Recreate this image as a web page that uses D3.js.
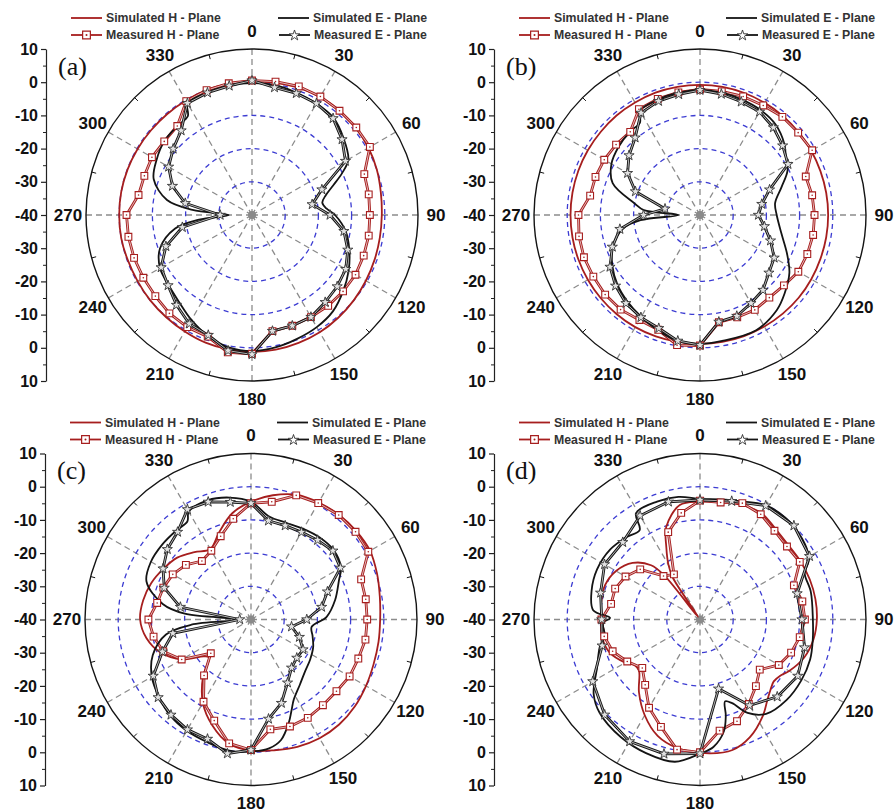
<!DOCTYPE html>
<html><head><meta charset="utf-8">
<script src="https://cdn.jsdelivr.net/npm/d3@7"></script>
<style>body{margin:0;background:#fff}svg{display:block}</style>
</head><body>
<svg id="chart" width="894" height="812"></svg>
<script>
// ---------- data ----------
const angles10 = d3.range(0, 360, 10);
const angles15 = d3.range(0, 360, 15);
const angleLabels = d3.range(0, 360, 30);
const radialTicks = d3.range(-50, 51, 10);      // mirrored axis, label = |v| - 40
const gridCircles = [-30, -20, -10, 0];
const panelLabels = ["(a)", "(b)", "(c)", "(d)"];
const legendNames = ["Simulated H - Plane", "Measured H - Plane", "Simulated E - Plane", "Measured E - Plane"];

// Panel (a)  [angle deg, gain dB] for simulated; measured at angle steps
const simH_a = [[0,0.3],[10,0.4],[20,0.8],[30,1],[40,1],[50,0.8],[60,0.5],[70,0],[80,-0.6],[90,-0.9],[100,-0.9],[110,-0.7],[120,-0.4],[130,0],[140,0.4],[150,0.8],[160,1],[170,1.2],[180,1.2],[190,1.1],[200,0.9],[210,0.5],[220,0.2],[230,0],[240,-0.2],[250,-0.2],[260,0],[270,0],[280,0],[290,-0.1],[300,-0.2],[310,-0.3],[320,-0.3],[330,-0.2],[340,0],[350,0.2]];
const measH_a = [0.5,0.8,1.2,1.2,1,1,1,-4,-4.3,-4.5,-4.3,-4.2,-4,-4.2,-4.3,-4.5,-4.5,-4.5,1.8,2,-1,-1,-1.3,-2,-2.2,-2.2,-2.2,-2.2,-5.3,-5.5,-5.2,-5.5,-5,-0.4,0,0.3];
const simE_a = [[0,-0.3],[10,-0.3],[20,-0.8],[30,-1.2],[40,-1.8],[50,-4],[60,-6.5],[65,-10],[70,-14],[75,-17],[80,-18.5],[85,-17.5],[90,-15],[100,-11.3],[110,-8.8],[120,-6.4],[130,-4.2],[140,-2.1],[150,-1],[160,-0.3],[170,0.5],[180,1],[190,0.5],[200,-1.2],[210,-3.5],[220,-5.8],[230,-7.2],[240,-8],[250,-10.5],[260,-16.5],[265,-24],[270,-33],[275,-22],[280,-14],[290,-8.5],[300,-6.8],[310,-5.5],[320,-5],[327,-4.5],[330,-1.2],[340,-0.7],[350,-0.4]];
const measE_a = [0.5,-1,-1,-1.2,-2,-4.6,-7.5,-17.6,-21.6,-16.5,-11.9,-9.3,-7.4,-6.5,-5.7,-4.5,-4.5,-4.5,2,1.5,-1.5,-2.2,-4.6,-7,-8.4,-12.4,-18.7,-30.4,-19.6,-14.5,-11,-9,-6.8,-1.1,-0.8,-0.5];

// Panel (b)
const simH_b = [[0,-0.8],[10,-0.8],[20,-0.9],[30,-1],[40,-1.1],[50,-1.2],[60,-1.3],[70,-1.4],[80,-1.4],[90,-1.4],[100,-1.4],[110,-1.4],[120,-1.3],[130,-1.2],[140,-1.2],[150,-1.2],[160,-1.2],[170,-1.2],[180,-1.2],[190,-1.2],[200,-1.1],[210,-1],[220,-1],[230,-1],[240,-1],[250,-1],[260,-1],[270,-1],[280,-1],[290,-1],[300,-1],[310,-1],[320,-0.9],[330,-0.9],[340,-0.8],[350,-0.8]];
const measH_b = [-2.2,-2.2,-2,-1.9,-1.4,-1.4,-1,-6.1,-5.7,-5.5,-5.4,-5.6,-5.8,-7,-7.5,-7,-7.2,-7.2,-0.7,-0.2,-3.2,-3.5,-2.8,-2.7,-2.9,-2.8,-3,-3.4,-6.4,-6.5,-6.7,-7,-7.3,-3.2,-2.8,-2.5];
const simE_b = [[0,-2.3],[10,-2.6],[20,-3],[30,-3.5],[40,-4.5],[50,-6.8],[55,-8.5],[63,-10.4],[71,-14],[81,-17.1],[90,-16.9],[103,-14.8],[114,-11.3],[123,-7.9],[133,-5.2],[141,-3.2],[154,-1.4],[170,-1.5],[180,-1.2],[190,-1.5],[200,-3],[210,-4.6],[220,-6],[230,-7.5],[240,-9.5],[250,-12],[260,-16.5],[265,-22],[270,-33.5],[275,-23],[280,-20],[290,-12],[300,-9.2],[310,-8],[320,-7.2],[327,-6.8],[330,-3.8],[340,-3],[350,-2.6]];
const measE_b = [-2.4,-3,-3.7,-4.1,-5.6,-7.5,-9.4,-17.7,-21.1,-22.4,-20.3,-17.4,-14.2,-12.9,-10.5,-9.3,-7.6,-7.3,-0.8,-1.5,-3.7,-4.4,-5.3,-6.8,-8.7,-11.9,-15.5,-23,-29.3,-19.3,-14.8,-12.1,-9.6,-4.5,-3.5,-3.1];

// Panel (c)
const simH_c = [[0,-4.5],[10,-2],[20,0],[30,0.7],[40,1.2],[50,1.4],[60,1.4],[70,0.4],[80,-0.6],[90,-1.1],[100,-1],[110,-0.7],[120,0],[130,0.8],[140,1.3],[150,1.3],[160,0.8],[170,0],[180,-0.5],[190,-2],[200,-6],[210,-11],[220,-17.5],[228,-23],[232,-22],[240,-16],[250,-11],[260,-8],[270,-6.6],[280,-7],[290,-8],[300,-9.5],[310,-11],[320,-13.5],[330,-15.5],[340,-12],[350,-7.5]];
const measH_c = [-5,-4,-0.2,0.5,1.1,1.1,0.8,-4.7,-4.9,-5,-5,-5.6,-5.7,-6.4,-6.3,-5.8,-5.7,-6.4,-0.7,-2.1,-7.6,-11.4,-18,-24.2,-15.9,-11.9,-10.2,-9.1,-11.3,-11.9,-12.8,-14.4,-17,-16.1,-13.3,-9.2];
const simE_c = [[0,-4.5],[10,-8.5],[20,-9],[30,-8.5],[40,-7.8],[50,-7.5],[60,-8.7],[66,-11],[77,-14],[88,-17.2],[97,-21.6],[105,-20.8],[114,-19.5],[124,-18.5],[134,-17.4],[143,-15.5],[152,-12.6],[156,-10],[160,-6.8],[166,-2.6],[172,-0.8],[180,-0.2],[190,0],[200,-0.8],[210,-1.3],[220,-2.2],[230,-3.8],[240,-5.5],[250,-8.5],[260,-14],[265,-22],[270,-36],[275,-20],[280,-13],[290,-6.5],[300,-5.2],[310,-5],[320,-5],[327,-4.8],[330,-2.5],[340,-1.8],[350,-2.7]];
const measE_c = [-5,-9.8,-9.9,-9.6,-8.8,-7.8,-8.9,-15.5,-18.4,-23.2,-27.6,-24.5,-21.9,-22,-21,-18,-13.2,-9.6,-0.7,1,-1.7,-1.7,-2.5,-3.5,-6,-11.6,-16.1,-36.6,-18.4,-12.2,-9.4,-7.1,-5.6,-1.7,-2.3,-4.1];

// Panel (d)
const simH_d = [[0,-4.5],[10,-4],[20,-3.3],[30,-3],[40,-4.5],[50,-5.2],[60,-5],[70,-4.8],[80,-4.7],[90,-4.8],[100,-5.3],[110,-6.6],[120,-9],[125,-10.5],[130,-11],[135,-10],[140,-8.4],[147,-5.3],[157,-1.5],[166,0.5],[176,0.4],[190,-0.7],[200,-2.7],[210,-6.7],[220,-11.4],[230,-16],[235,-16],[240,-14],[250,-11],[260,-10],[270,-10.2],[280,-9.8],[290,-9.6],[300,-10.8],[310,-13.5],[318,-18],[321,-23],[324,-39],[327,-25],[330,-21],[335,-16],[340,-10.3],[350,-5]];
const measH_d = [-4.2,-4.2,-2.7,-3.4,-5.1,-5.8,-5.3,-9.9,-8.7,-8.4,-9.5,-10.8,-12.6,-16.5,-13.8,-10.6,-7.4,-6,0,-0.2,-5.6,-9.3,-14.3,-17.3,-14.7,-12,-10.7,-10.3,-12.8,-12.8,-14.1,-16.5,-22.9,-24.3,-12,-7.4];
const simE_d = [[0,-3.7],[10,-3.3],[20,-2.2],[30,-0.3],[40,0],[50,-0.6],[58,-1.7],[62,-3],[66,-5.5],[76,-5.6],[90,-6],[100,-5.5],[110,-4.7],[121,-4.4],[133,-4.4],[145,-5.3],[153,-8.4],[159,-13],[163,-14.2],[165,-10],[168,-5.5],[174,-1.4],[180,0.4],[190,3.5],[202,3.4],[214,2.7],[227,1.3],[235,-0.9],[245,-5.8],[255,-8.8],[260,-10.9],[268,-10.8],[271,-12.9],[275,-7.7],[285,-6.2],[296,-5.5],[308,-5.7],[318,-6.7],[326,-7.5],[329,-2.6],[340,-2.2],[350,-2.5]];
const measE_d = [-4,-3.1,-0.4,0,-1.9,-9.7,-9.3,-7.4,-6,-7.1,-10.1,-18.4,0.4,1.9,2.4,0.6,-2.7,-9.5,-10.4,-9,-6.8,-7.1,-3.9,-3.3];

// ---------- layout ----------
const W = 894, H = 812;
const R = 166;
const RED = "#a61e1e", BLACK = "#141414", BLUE = "#3c3cd2", GRID = "#8c8c8c";
const FONT = "'Liberation Sans', Arial, sans-serif";
const panels = [
  {label: panelLabels[0], cx: 252, cy: 215, simH: simH_a, measH: measH_a, hAng: angles10, simE: simE_a, measE: measE_a, eAng: angles10},
  {label: panelLabels[1], cx: 700, cy: 215, simH: simH_b, measH: measH_b, hAng: angles10, simE: simE_b, measE: measE_b, eAng: angles10},
  {label: panelLabels[2], cx: 251, cy: 619.5, simH: simH_c, measH: measH_c, hAng: angles10, simE: simE_c, measE: measE_c, eAng: angles10},
  {label: panelLabels[3], cx: 700, cy: 619.5, simH: simH_d, measH: measH_d, hAng: angles10, simE: simE_d, measE: measE_d, eAng: angles15}
];

const svg = d3.select("#chart");
svg.append("rect").attr("width", W).attr("height", H).attr("fill", "#fff");

const r = d3.scaleLinear().domain([-40, 10]).range([0, R]);
const rad = a => a * Math.PI / 180;
const px = (a, v) => r(v) * Math.sin(rad(a));
const py = (a, v) => -r(v) * Math.cos(rad(a));

const simLine = d3.lineRadial().angle(d => rad(d[0])).radius(d => r(d[1])).curve(d3.curveCatmullRomClosed.alpha(0.5));
const measLine = d3.lineRadial().angle(d => rad(d[0])).radius(d => r(d[1])).curve(d3.curveLinearClosed);
const square = d3.symbol().type(d3.symbolSquare).size(46);
const star = d3.symbol().type(d3.symbolStar).size(32);

function doubleLine(g, d, color) {
  g.append("path").attr("d", d).attr("fill", "none").attr("stroke", color).attr("stroke-width", 2.8).attr("stroke-linejoin", "round");
  g.append("path").attr("d", d).attr("fill", "none").attr("stroke", "#fff").attr("stroke-width", 0.8).attr("stroke-opacity", 0.85).attr("stroke-linejoin", "round");
}

panels.forEach(p => {
  const g = svg.append("g").attr("transform", `translate(${p.cx},${p.cy})`);

  g.selectAll(".spoke").data(angleLabels).join("line")
    .attr("x1", 0).attr("y1", 0)
    .attr("x2", a => px(a, 10)).attr("y2", a => py(a, 10))
    .attr("stroke", GRID).attr("stroke-width", 1.3).attr("stroke-dasharray", "6,4");

  g.selectAll(".ring").data(gridCircles).join("circle")
    .attr("r", d => r(d)).attr("fill", "none")
    .attr("stroke", BLUE).attr("stroke-width", 1.3).attr("stroke-dasharray", "5,4");

  g.append("circle").attr("r", R).attr("fill", "none").attr("stroke", BLACK).attr("stroke-width", 1.4);
  g.selectAll(".otick").data(d3.range(15, 360, 30)).join("line")
    .attr("x1", a => px(a, 10)).attr("y1", a => py(a, 10))
    .attr("x2", a => px(a, 8.6)).attr("y2", a => py(a, 8.6))
    .attr("stroke", BLACK).attr("stroke-width", 1);

  g.append("circle").attr("r", 4).attr("fill", "#8a8a8a");

  g.selectAll(".alab").data(angleLabels).join("text")
    .attr("x", a => 184 * Math.sin(rad(a))).attr("y", a => -184 * Math.cos(rad(a)))
    .attr("text-anchor", "middle").attr("dominant-baseline", "central")
    .attr("font-family", FONT).attr("font-weight", "bold").attr("font-size", 17).attr("fill", "#111")
    .text(a => a);

  // H plane (red)
  g.append("path").attr("d", simLine(p.simH)).attr("fill", "none").attr("stroke", RED).attr("stroke-width", 1.8);
  const mh = p.hAng.map((a, i) => [a, p.measH[i]]);
  doubleLine(g, measLine(mh), RED);
  // E plane (black)
  g.append("path").attr("d", simLine(p.simE)).attr("fill", "none").attr("stroke", BLACK).attr("stroke-width", 1.8);
  const me = p.eAng.map((a, i) => [a, p.measE[i]]);
  doubleLine(g, measLine(me), BLACK);

  const sq = g.selectAll(".sq").data(mh).join("g")
    .attr("transform", d => `translate(${px(d[0], d[1])},${py(d[0], d[1])})`);
  sq.append("path").attr("d", square).attr("fill", "#fff").attr("stroke", RED).attr("stroke-width", 1.1);
  sq.append("circle").attr("r", 0.8).attr("fill", RED);
  g.selectAll(".st").data(me).join("path")
    .attr("d", star).attr("transform", d => `translate(${px(d[0], d[1])},${py(d[0], d[1])})`)
    .attr("fill", "#e2e2e2").attr("stroke", "#333").attr("stroke-width", 0.9);

  // left mirrored axis
  const y = d3.scaleLinear().domain([-50, 50]).range([p.cy + R, p.cy - R]);
  const ax = svg.append("g").attr("transform", `translate(${p.cx - 206},0)`);
  ax.call(d3.axisLeft(y).tickValues(radialTicks).tickFormat(v => String(Math.abs(v) - 40))
      .tickSize(5).tickSizeOuter(0).tickPadding(3));
  ax.selectAll("text").attr("font-family", FONT).attr("font-weight", "bold").attr("font-size", 16).attr("fill", "#111");
  ax.selectAll("line, path").attr("stroke", "#222").attr("stroke-width", 1.2);
  const axm = svg.append("g").attr("transform", `translate(${p.cx - 206},0)`);
  axm.call(d3.axisLeft(y).tickValues(d3.range(-45, 50, 10)).tickFormat("").tickSize(3).tickSizeOuter(0));
  axm.select(".domain").remove();
  axm.selectAll("line").attr("stroke", "#222").attr("stroke-width", 1);

  svg.append("text").attr("x", p.cx - 194).attr("y", p.cy - 140.5)
    .attr("font-family", "'Liberation Serif', 'Times New Roman', serif").attr("font-size", 26).attr("fill", "#111")
    .text(p.label);

  const leg = [
    {name: legendNames[0], color: RED, x: -181, y: -197, marker: null},
    {name: legendNames[1], color: RED, x: -181, y: -180, marker: "sq"},
    {name: legendNames[2], color: BLACK, x: 26, y: -197, marker: null},
    {name: legendNames[3], color: BLACK, x: 27, y: -180, marker: "st"}
  ];
  leg.forEach(l => {
    const lg = svg.append("g").attr("transform", `translate(${p.cx + l.x},${p.cy + l.y})`);
    lg.append("line").attr("x1", 0).attr("x2", 31).attr("y1", 0).attr("y2", 0)
      .attr("stroke", l.color).attr("stroke-width", 1.8);
    if (l.marker === "sq") {
      lg.append("path").attr("d", d3.symbol().type(d3.symbolSquare).size(60)()).attr("transform", "translate(15.5,0)")
        .attr("fill", "#fff").attr("stroke", RED).attr("stroke-width", 1.2);
      lg.append("circle").attr("cx", 15.5).attr("r", 1).attr("fill", RED);
    }
    if (l.marker === "st") {
      lg.append("path").attr("d", d3.symbol().type(d3.symbolStar).size(34)()).attr("transform", "translate(15.5,0.5)")
        .attr("fill", "#fff").attr("stroke", "#333").attr("stroke-width", 0.9);
    }
    lg.append("text").attr("x", 35).attr("y", 0).attr("dominant-baseline", "central")
      .attr("font-family", FONT).attr("font-weight", "bold").attr("font-size", 12.3).attr("fill", "#333")
      .text(l.name);
  });
});
</script>
</body></html>
